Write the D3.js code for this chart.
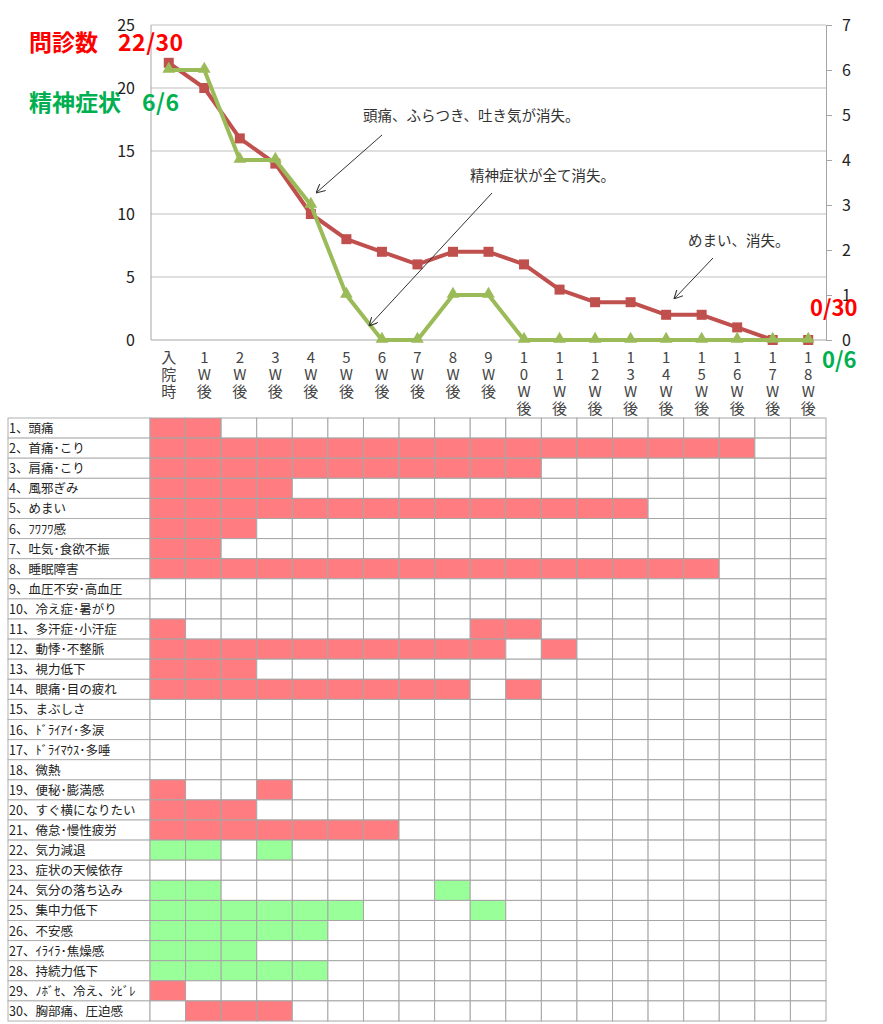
<!DOCTYPE html>
<html lang="ja">
  <head>
    <meta charset="utf-8">
    <title>問診数・精神症状の推移</title>
    <script src="https://d3js.org/d3.v7.min.js"></script>
    <style>
      body { margin: 0; background: #fff; }
      text { font-family: "Noto Sans CJK JP", "Noto Sans", sans-serif; }
    </style>
  </head>

  <body>

    <script>

// data

  var weeks = ["入院時", "1W後", "2W後", "3W後", "4W後", "5W後", "6W後", "7W後", "8W後", "9W後",
               "10W後", "11W後", "12W後", "13W後", "14W後", "15W後", "16W後", "17W後", "18W後"];

  var monshin = [22, 20, 16, 14, 10, 8, 7, 6, 7, 7, 6, 4, 3, 3, 2, 2, 1, 0, 0];
  var seishin = [6, 6, 4, 4, 3, 1, 0, 0, 1, 1, 0, 0, 0, 0, 0, 0, 0, 0, 0];

  var leftTicks = [0, 5, 10, 15, 20, 25];
  var rightTicks = [0, 1, 2, 3, 4, 5, 6, 7];

  var symptoms = ["1、頭痛", "2、首痛･こり", "3、肩痛･こり", "4、風邪ぎみ", "5、めまい",
                  "6、ﾌﾜﾌﾜ感", "7、吐気･食欲不振", "8、睡眠障害", "9、血圧不安･高血圧", "10、冷え症･暑がり",
                  "11、多汗症･小汗症", "12、動悸･不整脈", "13、視力低下", "14、眼痛･目の疲れ", "15、まぶしさ",
                  "16、ﾄﾞﾗｲｱｲ･多涙", "17、ﾄﾞﾗｲﾏｳｽ･多唾", "18、微熱", "19、便秘･膨満感", "20、すぐ横になりたい",
                  "21、倦怠･慢性疲労", "22、気力減退", "23、症状の天候依存", "24、気分の落ち込み", "25、集中力低下",
                  "26、不安感", "27、ｲﾗｲﾗ･焦燥感", "28、持続力低下", "29、ﾉﾎﾞｾ、冷え、ｼﾋﾞﾚ", "30、胸部痛、圧迫感"];

  // which weeks (column index) each symptom was present
  var present = [
    [0, 1],
    [0, 1, 2, 3, 4, 5, 6, 7, 8, 9, 10, 11, 12, 13, 14, 15, 16],
    [0, 1, 2, 3, 4, 5, 6, 7, 8, 9, 10],
    [0, 1, 2, 3],
    [0, 1, 2, 3, 4, 5, 6, 7, 8, 9, 10, 11, 12, 13],
    [0, 1, 2],
    [0, 1],
    [0, 1, 2, 3, 4, 5, 6, 7, 8, 9, 10, 11, 12, 13, 14, 15],
    [],
    [],
    [0, 9, 10],
    [0, 1, 2, 3, 4, 5, 6, 7, 8, 9, 11],
    [0, 1, 2],
    [0, 1, 2, 3, 4, 5, 6, 7, 8, 10],
    [],
    [],
    [],
    [],
    [0, 3],
    [0, 1, 2],
    [0, 1, 2, 3, 4, 5, 6],
    [0, 1, 3],
    [],
    [0, 1, 8],
    [0, 1, 2, 3, 4, 5, 9],
    [0, 1, 2, 3, 4],
    [0, 1, 2],
    [0, 1, 2, 3, 4],
    [0],
    [1, 2, 3]
  ];

  // 精神症状 items are drawn in green
  var mental = [22, 24, 25, 26, 27, 28];

  var notes = [
    {text: "頭痛、ふらつき、吐き気が消失。", tx: 363, ty: 121, x1: 382, y1: 135, x2: 316, y2: 193},
    {text: "精神症状が全て消失。", tx: 470, ty: 181, x1: 492, y1: 193, x2: 369, y2: 326},
    {text: "めまい、消失。", tx: 688, ty: 246, x1: 713, y1: 258, x2: 674, y2: 299}
  ];

// svg

  var svg = d3.select("body")
    .append("svg")
      .attr("width", 883)
      .attr("height", 1024);

  svg.append("defs").append("marker")
      .attr("id", "arr")
      .attr("viewBox", "0 0 10 10")
      .attr("refX", 10).attr("refY", 5)
      .attr("markerWidth", 9).attr("markerHeight", 9)
      .attr("markerUnits", "userSpaceOnUse")
      .attr("orient", "auto")
    .append("path")
      .attr("d", "M0,0 L10,5 L0,10")
      .attr("fill", "none")
      .attr("stroke", "#333")
      .attr("stroke-width", 1.2);

  var pLeft = 151, pRight = 826, pTop = 25, pBottom = 340;

  var x = d3.scaleBand()
      .domain(d3.range(weeks.length))
      .range([pLeft, pRight]);

  var yL = d3.scaleLinear().domain([0, 25]).range([pBottom, pTop]);
  var yR = d3.scaleLinear().domain([0, 7]).range([pBottom, pTop]);

  var cx = i => x(i) + x.bandwidth() / 2;

// grid + axes

  svg.append("g").selectAll("line")
      .data(leftTicks.slice(1))
    .enter().append("line")
      .attr("x1", pLeft).attr("x2", pRight)
      .attr("y1", d => yL(d)).attr("y2", d => yL(d))
      .attr("stroke", "#bfbfbf")
      .attr("stroke-width", 1.2);

  svg.append("line")
      .attr("x1", pLeft).attr("x2", pLeft)
      .attr("y1", pTop).attr("y2", pBottom)
      .attr("stroke", "#a6a6a6");

  svg.append("line")
      .attr("x1", pLeft).attr("x2", pRight)
      .attr("y1", pBottom).attr("y2", pBottom)
      .attr("stroke", "#a6a6a6");

  svg.append("g")
      .attr("font-size", 16)
      .attr("fill", "#222")
    .selectAll("text")
      .data(leftTicks)
    .enter().append("text")
      .attr("x", 135)
      .attr("y", d => yL(d) + 6)
      .attr("text-anchor", "end")
      .text(d => d);

  var rAxis = svg.append("g")
      .attr("transform", "translate(" + pRight + ",0)")
      .call(d3.axisRight(yR).tickValues(rightTicks).tickFormat(d3.format("d"))
              .tickSize(6).tickPadding(10));
  rAxis.select(".domain").attr("stroke", "#a6a6a6");
  rAxis.selectAll(".tick line").attr("stroke", "#a6a6a6");
  rAxis.selectAll(".tick text")
      .attr("font-size", 16)
      .attr("fill", "#222")
      .attr("font-family", "Noto Sans CJK JP, sans-serif");

  // stacked vertical category labels
  var xl = svg.append("g")
      .attr("font-size", 15)
      .attr("fill", "#444")
    .selectAll("g")
      .data(weeks)
    .enter().append("g");

  xl.each(function (w, i) {
    d3.select(this).selectAll("text")
        .data(w.split(""))
      .enter().append("text")
        .attr("x", cx(i))
        .attr("y", (d, j) => 363 + j * 17)
        .attr("text-anchor", "middle")
        .text(d => d);
  });

// lines

  var lineL = d3.line().x((d, i) => cx(i)).y(d => yL(d));
  var lineR = d3.line().x((d, i) => cx(i)).y(d => yR(d));

  svg.append("path")
      .datum(monshin)
      .attr("d", lineL)
      .attr("fill", "none")
      .attr("stroke", "#c0504d")
      .attr("stroke-width", 4)
      .attr("stroke-linejoin", "round");

  svg.append("g").selectAll("rect")
      .data(monshin)
    .enter().append("rect")
      .attr("x", (d, i) => cx(i) - 5)
      .attr("y", d => yL(d) - 5)
      .attr("width", 10)
      .attr("height", 10)
      .attr("fill", "#c0504d");

  svg.append("path")
      .datum(seishin)
      .attr("d", lineR)
      .attr("fill", "none")
      .attr("stroke", "#9bbb59")
      .attr("stroke-width", 4)
      .attr("stroke-linejoin", "round");

  svg.append("g").selectAll("path")
      .data(seishin)
    .enter().append("path")
      .attr("d", d3.symbol().type(d3.symbolTriangle).size(70))
      .attr("transform", (d, i) => "translate(" + cx(i) + "," + (yR(d) - 1) + ")")
      .attr("fill", "#9bbb59");

// annotations

  var ann = svg.append("g");
  ann.selectAll("text")
      .data(notes)
    .enter().append("text")
      .attr("x", d => d.tx)
      .attr("y", d => d.ty)
      .attr("font-size", 14.5)
      .attr("fill", "#333")
      .text(d => d.text);

  ann.selectAll("line")
      .data(notes)
    .enter().append("line")
      .attr("x1", d => d.x1).attr("y1", d => d.y1)
      .attr("x2", d => d.x2).attr("y2", d => d.y2)
      .attr("stroke", "#333")
      .attr("stroke-width", 1)
      .attr("marker-end", "url(#arr)");

  var big = svg.append("g")
      .attr("font-weight", "bold");

  var t1 = big.append("text")
      .attr("y", 51)
      .attr("font-size", 23)
      .attr("fill", "#ff0000");
  t1.append("tspan").attr("x", 29).text("問診数");
  t1.append("tspan").attr("x", 118).attr("letter-spacing", 0.5).text(monshin[0] + "/30");

  var t2 = big.append("text")
      .attr("y", 111)
      .attr("font-size", 23)
      .attr("fill", "#00b050");
  t2.append("tspan").attr("x", 29).text("精神症状");
  t2.append("tspan").attr("x", 142).attr("letter-spacing", 0.5).text(seishin[0] + "/6");

  big.append("text")
      .attr("x", 810).attr("y", 316)
      .attr("font-size", 22)
      .attr("fill", "#ff0000")
      .text(monshin[monshin.length - 1] + "/30");

  big.append("text")
      .attr("x", 822).attr("y", 368)
      .attr("font-size", 22)
      .attr("fill", "#00b050")
      .text(seishin[seishin.length - 1] + "/6");

// symptom table

  var tTop = 418, rowH = 20.1, tLeft = 8;

  var x2 = d3.scaleBand()
      .domain(d3.range(weeks.length))
      .range([150, pRight]);

  var y2 = d3.scaleBand()
      .domain(d3.range(symptoms.length))
      .range([tTop, tTop + rowH * symptoms.length]);

  var rows = svg.append("g").selectAll("g")
      .data(symptoms)
    .enter().append("g");

  rows.append("rect")
      .attr("x", tLeft)
      .attr("y", (d, i) => y2(i))
      .attr("width", 150 - tLeft)
      .attr("height", y2.bandwidth())
      .attr("fill", "#fff")
      .attr("stroke", "#b0b0b0");

  rows.append("text")
      .attr("x", tLeft + 1)
      .attr("y", (d, i) => y2(i) + 15)
      .attr("font-size", 12.5)
      .attr("fill", "#222")
      .text(d => d);

  rows.each(function (d, i) {
    var on = present[i];
    var col = mental.indexOf(i + 1) >= 0 ? "#99ff99" : "#ff7c80";
    d3.select(this).selectAll("rect.cell")
        .data(weeks)
      .enter().append("rect")
        .attr("class", "cell")
        .attr("x", (w, j) => x2(j))
        .attr("y", y2(i))
        .attr("width", x2.bandwidth())
        .attr("height", y2.bandwidth())
        .attr("fill", (w, j) => on.indexOf(j) >= 0 ? col : "#fff")
        .attr("stroke", "#a6a6a6");
  });

    </script>

  </body>

</html>
